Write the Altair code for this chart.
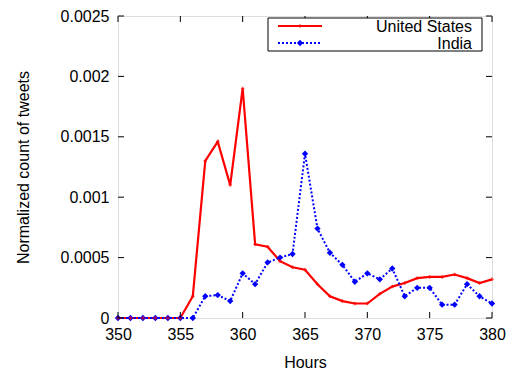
import altair as alt
import pandas as pd

hours = list(range(350, 381))
us = [0, 0, 0, 0, 0, 0, 0.00018, 0.0013, 0.00146, 0.0011, 0.0019,
      0.00061, 0.00059, 0.00047, 0.00042, 0.0004, 0.00028, 0.00018, 0.00014,
      0.00012, 0.00012, 0.0002, 0.00026, 0.00029, 0.00033, 0.00034, 0.00034,
      0.00036, 0.00033, 0.00029, 0.00032]
india = [0, 0, 0, 0, 0, 0, 0, 0.00018, 0.00019, 0.00014, 0.00037,
         0.00028, 0.00046, 0.0005, 0.00053, 0.00136, 0.00074, 0.00054, 0.00044,
         0.0003, 0.00037, 0.00032, 0.00041, 0.00018, 0.00025, 0.00025, 0.00011,
         0.00011, 0.00028, 0.00018, 0.00012]
x_ticks = [350, 355, 360, 365, 370, 375, 380]
y_ticks = [0, 0.0005, 0.001, 0.0015, 0.002, 0.0025]
series_names = ["United States", "India"]

W, H = 374, 302
FONT = "Liberation Sans"
FS = 16

df_us = pd.DataFrame({"hour": hours, "value": us})
df_in = pd.DataFrame({"hour": hours, "value": india})

xscale = alt.Scale(domain=[350, 380], nice=False, zero=False)
yscale = alt.Scale(domain=[0, 0.0025], nice=False)

xax = alt.Axis(values=x_ticks, format="d", ticks=False, grid=False, domain=False,
               labelFont=FONT, labelFontSize=FS, labelColor="black", labelPadding=8,
               title="Hours", titleFont=FONT, titleFontSize=FS, titleFontWeight="normal",
               titleColor="black", titlePadding=12, labelFlush=False)
yax = alt.Axis(values=y_ticks, ticks=False, grid=False, domain=False,
               labelExpr="datum.value == 0 ? '0' : format(datum.value, '.4~f')",
               labelFont=FONT, labelFontSize=FS, labelColor="black", labelPadding=9,
               title="Normalized count of tweets", titleFont=FONT, titleFontSize=FS,
               titleFontWeight="normal", titleColor="black", titlePadding=29,
               labelFlush=False)

us_line = alt.Chart(df_us).mark_line(color="#ff0000", strokeWidth=2.2).encode(
    x=alt.X("hour:Q", scale=xscale, axis=xax),
    y=alt.Y("value:Q", scale=yscale, axis=yax),
)
us_pts = alt.Chart(df_us).mark_point(shape="cross", filled=True, color="#ff0000", size=12).encode(
    x=alt.X("hour:Q", scale=xscale), y=alt.Y("value:Q", scale=yscale))
in_line = alt.Chart(df_in).mark_line(color="#0000ff", strokeWidth=2, strokeDash=[2, 2]).encode(
    x=alt.X("hour:Q", scale=xscale), y=alt.Y("value:Q", scale=yscale))
in_pts = alt.Chart(df_in).mark_point(shape="diamond", filled=True, color="#0000ff", size=40, opacity=1).encode(
    x=alt.X("hour:Q", scale=xscale), y=alt.Y("value:Q", scale=yscale))

# inward ticks (mirrored on all four sides)
dfx = pd.DataFrame({"t": x_ticks})
dfy = pd.DataFrame({"t": y_ticks})
tick_style = dict(color="black", strokeWidth=1)
xt_bot = alt.Chart(dfx).mark_rule(**tick_style).encode(
    x=alt.X("t:Q", scale=xscale), y=alt.value(H), y2=alt.value(H - 6))
xt_top = alt.Chart(dfx).mark_rule(**tick_style).encode(
    x=alt.X("t:Q", scale=xscale), y=alt.value(0), y2=alt.value(6))
yt_l = alt.Chart(dfy).mark_rule(**tick_style).encode(
    y=alt.Y("t:Q", scale=yscale), x=alt.value(0), x2=alt.value(6))
yt_r = alt.Chart(dfy).mark_rule(**tick_style).encode(
    y=alt.Y("t:Q", scale=yscale), x=alt.value(W), x2=alt.value(W - 6))

# legend
one = pd.DataFrame({"k": [0]})
leg_box = alt.Chart(one).mark_rect(fill="white", stroke="black", strokeWidth=1).encode(
    x=alt.value(150), x2=alt.value(364), y=alt.value(2), y2=alt.value(35))
leg_us_line = alt.Chart(one).mark_rule(color="#ff0000", strokeWidth=2.2).encode(
    x=alt.value(160), x2=alt.value(204), y=alt.value(10))
leg_us_pt = alt.Chart(one).mark_point(shape="cross", filled=True, color="#ff0000", size=12).encode(
    x=alt.value(182), y=alt.value(10))
leg_in_line = alt.Chart(one).mark_rule(color="#0000ff", strokeWidth=2, strokeDash=[2, 2]).encode(
    x=alt.value(160), x2=alt.value(204), y=alt.value(27))
leg_in_pt = alt.Chart(one).mark_point(shape="diamond", filled=True, color="#0000ff", size=40, opacity=1).encode(
    x=alt.value(182), y=alt.value(27))
leg_txt_us = alt.Chart(one).mark_text(align="right", baseline="middle", font=FONT, fontSize=FS, color="black").encode(
    x=alt.value(354), y=alt.value(10.5), text=alt.value(series_names[0]))
leg_txt_in = alt.Chart(one).mark_text(align="right", baseline="middle", font=FONT, fontSize=FS, color="black").encode(
    x=alt.value(354), y=alt.value(27.5), text=alt.value(series_names[1]))

chart = alt.layer(
    us_line, in_line, in_pts, us_pts, xt_bot, xt_top, yt_l, yt_r,
    leg_box, leg_us_line, leg_us_pt, leg_in_line, leg_in_pt, leg_txt_us, leg_txt_in,
).properties(
    width=W, height=H,
    autosize=alt.AutoSizeParams(type="none"),
    padding={"left": 110, "top": 8, "right": 19, "bottom": 52},
).configure_view(stroke="black", strokeWidth=1.5).configure(background="white")

chart.save("out.html", embed_options={"renderer": "svg", "actions": False})
